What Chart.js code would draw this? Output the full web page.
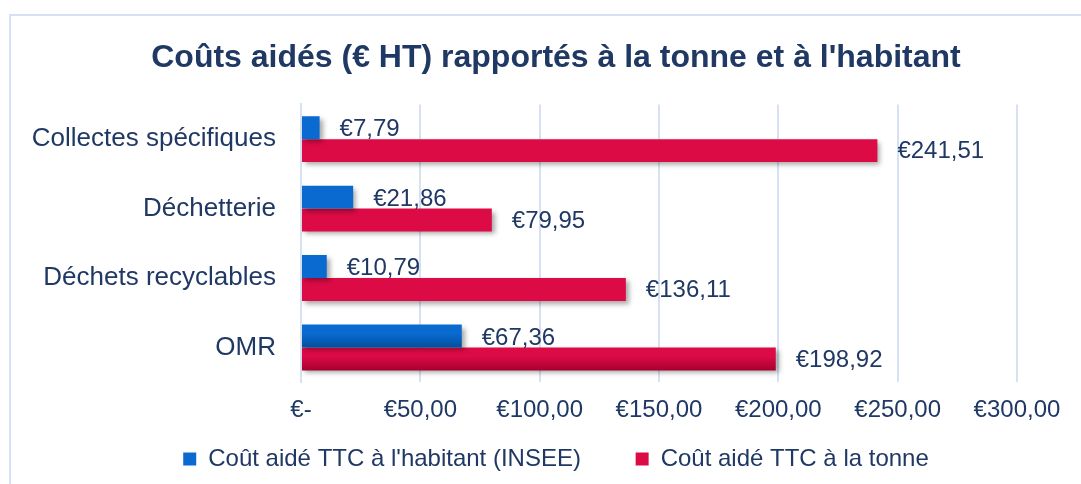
<!DOCTYPE html>
<html>
<head>
<meta charset="utf-8">
<script src="https://cdn.jsdelivr.net/npm/chart.js@4/dist/chart.umd.min.js"></script>
<style>
    html, body { margin: 0; padding: 0; background: #fff; overflow: hidden; }
    .box {
        position: absolute; left: 9px; top: 14px;
        width: 1090px; height: 480px;
        border: 2px solid #d6e2f3;
    }
    canvas { display: block; }
</style>
</head>
<body>
<div class="box"><canvas id="barChart" width="1090" height="468"></canvas></div>
<script>
// données
var categories = ["Collectes spécifiques", "Déchetterie", "Déchets recyclables", "OMR"];
var par_habitant = [7.79, 21.86, 10.79, 67.36];
var par_tonne = [241.51, 79.95, 136.11, 198.92];
var serie_names = ["Coût aidé TTC à l'habitant (INSEE)", "Coût aidé TTC à la tonne"];
var x_ticks = [0, 50, 100, 150, 200, 250, 300];

var navy = "#1f3864";
var grid = "#d6e2f3";
var gradients = [["#0a6ad0", "#00509e"], ["#dc0a45", "#a6002f"]];
var font_family = "'Liberation Sans', Arial, sans-serif";

function euro(v) {
    if (v === 0) return "€-";
    return "€" + v.toFixed(2).replace(".", ",");
}

// dégradé + ombre sur chaque barre
var barStyle = {
    id: "barStyle",
    beforeDatasetDraw: function(chart, args) {
        var ctx = chart.ctx;
        var cols = gradients[args.index];
        chart.getDatasetMeta(args.index).data.forEach(function(el) {
            var g = ctx.createLinearGradient(0, el.y - el.height / 2, 0, el.y + el.height / 2);
            g.addColorStop(0, cols[0]);
            g.addColorStop(0.4, cols[0]);
            g.addColorStop(1, cols[1]);
            el.options.backgroundColor = g;
        });
        ctx.save();
        ctx.shadowColor = "rgba(0,0,0,0.35)";
        ctx.shadowBlur = 5;
        ctx.shadowOffsetX = 3;
        ctx.shadowOffsetY = 3;
    },
    afterDatasetDraw: function(chart) {
        chart.ctx.restore();
    }
};

// étiquettes de valeurs
var valueLabels = {
    id: "valueLabels",
    afterDatasetsDraw: function(chart) {
        var ctx = chart.ctx;
        ctx.save();
        ctx.font = "24px " + font_family;
        ctx.fillStyle = navy;
        ctx.textAlign = "left";
        ctx.textBaseline = "middle";
        chart.data.datasets.forEach(function(ds, i) {
            chart.getDatasetMeta(i).data.forEach(function(el, j) {
                ctx.fillText(euro(ds.data[j]), el.x + 20, el.y + (i === 0 ? 2 : 1));
            });
        });
        ctx.restore();
    }
};

var ctx1 = document.getElementById("barChart");
var barChart = new Chart(ctx1, {
    type: "bar",
    data: {
        labels: categories,
        datasets: [{
            label: serie_names[0],
            data: par_habitant,
            backgroundColor: gradients[0][0],
            barPercentage: 1,
            categoryPercentage: 0.66
        }, {
            label: serie_names[1],
            data: par_tonne,
            backgroundColor: gradients[1][0],
            barPercentage: 1,
            categoryPercentage: 0.66
        }]
    },
    plugins: [barStyle, valueLabels],
    options: {
        indexAxis: "y",
        responsive: false,
        animation: false,
        layout: { padding: { left: 0, right: 0, top: 0, bottom: 3 } },
        plugins: {
            title: {
                display: true,
                text: "Coûts aidés (€ HT) rapportés à la tonne et à l'habitant",
                color: navy,
                font: { family: font_family, size: 32, weight: "bold" },
                padding: { top: 23, bottom: 27 }
            },
            legend: {
                position: "bottom",
                labels: {
                    color: navy,
                    font: { family: font_family, size: 24 },
                    boxWidth: 13,
                    boxHeight: 13,
                    padding: 8,
                    generateLabels: function(chart) {
                        return chart.data.datasets.map(function(ds, i) {
                            return {
                                // espaces en fin de texte pour écarter les deux entrées
                                text: i === 0 ? ds.label + "       " : ds.label,
                                fillStyle: gradients[i][0],
                                strokeStyle: gradients[i][0],
                                lineWidth: 0,
                                fontColor: navy,
                                datasetIndex: i
                            };
                        });
                    }
                }
            },
            tooltip: { enabled: false }
        },
        scales: {
            x: {
                min: 0,
                max: 300,
                afterBuildTicks: function(scale) {
                    scale.ticks = x_ticks.map(function(v) { return { value: v }; });
                },
                afterFit: function(scale) { scale.paddingRight = 84; },
                grid: { color: grid, lineWidth: 2, drawTicks: false },
                border: { display: false },
                ticks: {
                    color: navy,
                    padding: 14,
                    font: { family: font_family, size: 24 },
                    callback: function(v) { return euro(v); }
                }
            },
            y: {
                afterFit: function(scale) { scale.width = 290; },
                grid: { display: false, drawTicks: false },
                border: { display: true, color: grid, width: 2 },
                ticks: {
                    color: navy,
                    padding: 25,
                    font: { family: font_family, size: 26 }
                }
            }
        }
    }
});
</script>
</body>
</html>
